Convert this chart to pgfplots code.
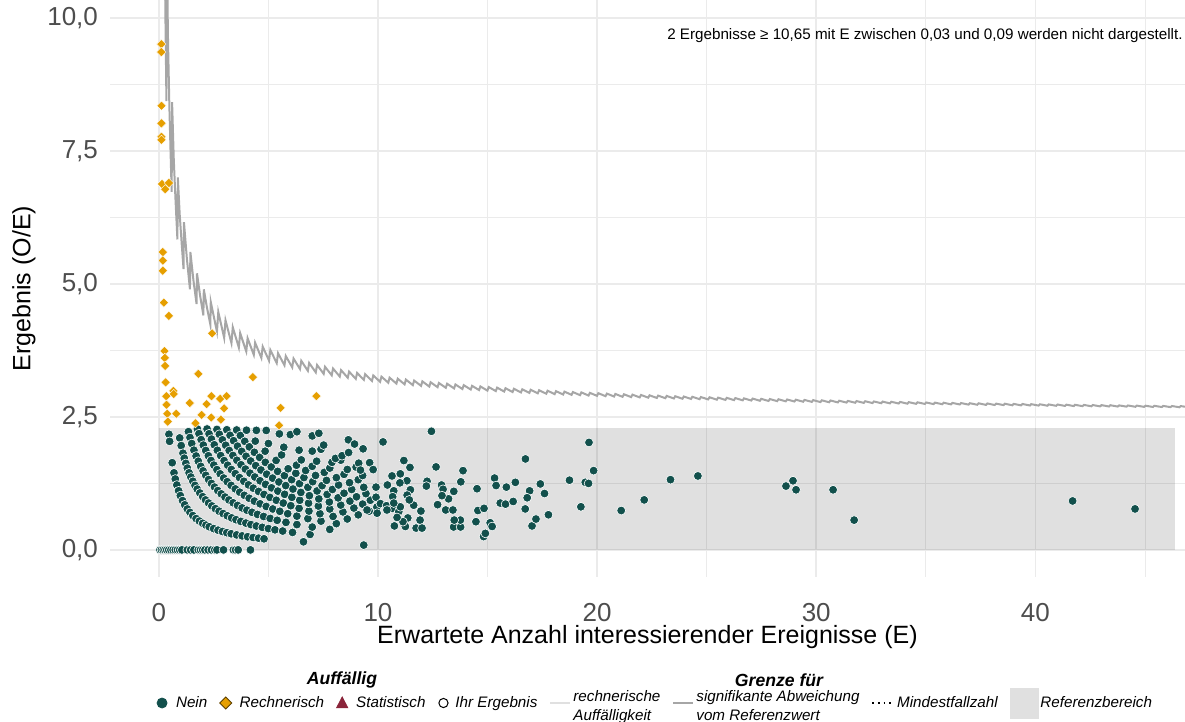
\documentclass[border=0pt]{standalone}
\usepackage{fontspec}
\setmainfont{Liberation Sans}
\usepackage{pgfplots}
\pgfplotsset{compat=1.18}
\definecolor{nein}{RGB}{18,80,76}
\definecolor{rechn}{RGB}{230,159,0}
\definecolor{stat}{RGB}{138,36,58}
\definecolor{sig}{RGB}{166,166,166}
\definecolor{rechline}{RGB}{224,224,224}
\definecolor{gridc}{RGB}{235,235,235}
\definecolor{tickc}{RGB}{77,77,77}
\definecolor{refc}{RGB}{224,224,224}

\begin{document}
\begin{tikzpicture}
\useasboundingbox (-55pt,-72.5pt) rectangle (537.5pt,288.5pt);
\begin{axis}[
  scale only axis, width=537.5pt, height=288.5pt,
  xmin=-2.23, xmax=46.83, ymin=-0.51, ymax=10.34,
  axis line style={draw=none}, tick style={draw=none},
  major tick length=0pt, minor tick length=0pt,
  xtick={0,10,20,30,40}, xticklabels={0,10,20,30,40},
  minor xtick={5,15,25,35,45},
  ytick={0,2.5,5,7.5,10}, yticklabels={{0,0},{2,5},{5,0},{7,5},{10,0}},
  minor ytick={1.25,3.75,6.25,8.75},
  grid=both,
  major grid style={draw=gridc, line width=0.75pt},
  minor grid style={draw=gridc, line width=0.4pt},
  tick label style={font=\fontsize{13}{15}\selectfont, text=tickc},
  yticklabel style={xshift=-2.5pt},
  xticklabel style={inner sep=0pt, yshift=-12.8pt},
  xlabel={Erwartete Anzahl interessierender Ereignisse (E)},
  ylabel={Ergebnis (O/E)},
  label style={font=\fontsize{12.5}{15}\selectfont},
  xlabel style={at={(axis description cs:0.5,-0.104)}, anchor=center, inner sep=0pt},
  ylabel style={at={(axis description cs:-0.08,0.5)}, anchor=center},
  legend columns=8,
  legend style={at={(0.507,-0.2184)}, anchor=center, draw=none, fill=none,
    font=\fontsize{7.6}{9.2}\selectfont\itshape,
    nodes={inner sep=1pt},
    /tikz/every even column/.append style={column sep=5pt}},
]
% Referenzbereich
\addplot[draw=none, fill=black, fill opacity=0.12, forget plot]
  coordinates {(0,0) (0,2.29) (46.37,2.29) (46.37,0) (0,0)};

% Grenze: signifikante Abweichung vom Referenzwert
\addplot[sig, line width=1pt, forget plot] table {
x y
0.25 12.0
0.30 10.0
0.3455 8.439
0.3655 11.252
0.42 9.524
0.48 8.333
0.53 7.547
0.584 6.734
0.604 8.418
0.68 7.353
0.76 6.579
0.8466 5.837
0.8666 7.004
0.95 6.316
1.04 5.769
1.1261 5.281
1.1461 6.161
1.28 5.469
1.4184 4.901
1.4384 5.601
1.58 5.063
1.7208 4.622
1.7408 5.200
1.88 4.787
2.0314 4.409
2.0514 4.899
2.20 4.545
2.3489 4.239
2.3689 4.663
2.652 4.101
2.712 4.474
2.981 3.986
3.041 4.318
3.313 3.888
3.373 4.187
3.650 3.804
3.710 4.076
3.990 3.731
4.050 3.980
4.333 3.667
4.393 3.896
4.679 3.610
4.739 3.822
5.028 3.559
5.088 3.757
5.379 3.513
5.439 3.698
5.732 3.471
5.792 3.645
6.087 3.433
6.147 3.597
6.440 3.401
6.500 3.555
6.800 3.367
6.860 3.514
7.161 3.337
7.221 3.477
7.522 3.310
7.582 3.443
7.889 3.283
7.949 3.410
8.255 3.259
8.315 3.380
8.621 3.237
8.681 3.352
8.987 3.216
9.047 3.327
9.354 3.197
9.414 3.304
9.726 3.178
9.786 3.280
10.098 3.160
10.158 3.258
10.470 3.143
10.530 3.238
10.842 3.127
10.902 3.219
11.214 3.113
11.274 3.202
11.590 3.098
11.650 3.184
11.966 3.084
12.026 3.168
12.342 3.071
12.402 3.152
12.719 3.059
12.779 3.138
13.095 3.048
13.155 3.124
13.475 3.036
13.535 3.110
13.854 3.025
13.914 3.097
14.234 3.015
14.294 3.085
14.614 3.005
14.674 3.073
14.994 2.995
15.054 3.062
15.377 2.986
15.437 3.051
15.760 2.977
15.820 3.040
16.143 2.968
16.203 3.030
16.525 2.960
16.585 3.020
16.908 2.952
16.968 3.011
17.294 2.944
17.354 3.002
17.679 2.936
17.739 2.993
18.064 2.929
18.124 2.984
18.450 2.922
18.510 2.976
18.835 2.915
18.895 2.968
19.223 2.909
19.283 2.961
19.610 2.902
19.670 2.953
19.998 2.896
20.058 2.946
20.385 2.890
20.445 2.939
20.773 2.884
20.833 2.932
21.163 2.878
21.223 2.926
21.554 2.873
21.614 2.919
21.944 2.867
22.004 2.913
22.334 2.862
22.394 2.906
22.725 2.857
22.785 2.901
23.115 2.852
23.175 2.895
23.505 2.847
23.565 2.889
23.896 2.842
23.956 2.884
24.286 2.838
24.346 2.879
24.677 2.833
24.737 2.874
25.070 2.829
25.130 2.869
25.464 2.824
25.524 2.863
25.857 2.820
25.917 2.859
26.250 2.816
26.310 2.854
26.644 2.812
26.704 2.849
27.037 2.808
27.097 2.845
27.430 2.804
27.490 2.840
27.824 2.800
27.884 2.836
28.217 2.797
28.277 2.832
28.611 2.793
28.671 2.828
29.007 2.790
29.067 2.824
29.403 2.786
29.463 2.820
29.799 2.783
29.859 2.816
30.195 2.779
30.255 2.812
30.591 2.776
30.651 2.809
30.987 2.773
31.047 2.805
31.383 2.770
31.443 2.801
31.779 2.767
31.839 2.798
32.174 2.764
32.234 2.795
32.570 2.761
32.630 2.791
32.969 2.758
33.029 2.788
33.367 2.755
33.427 2.785
33.765 2.752
33.825 2.782
34.163 2.749
34.223 2.778
34.561 2.746
34.621 2.775
34.959 2.744
35.019 2.772
35.357 2.741
35.417 2.769
35.755 2.739
35.815 2.767
36.153 2.736
36.213 2.764
36.551 2.734
36.611 2.761
36.951 2.731
37.011 2.758
37.350 2.729
37.410 2.756
37.750 2.726
37.810 2.753
38.150 2.724
38.210 2.750
38.550 2.722
38.610 2.748
38.950 2.719
39.010 2.745
39.350 2.717
39.410 2.743
39.750 2.715
39.810 2.740
40.150 2.713
40.210 2.738
40.550 2.711
40.610 2.735
40.951 2.709
41.011 2.733
41.353 2.707
41.413 2.731
41.754 2.704
41.814 2.728
42.156 2.702
42.216 2.726
42.557 2.700
42.617 2.724
42.959 2.698
43.019 2.722
43.360 2.696
43.420 2.720
43.762 2.695
43.822 2.717
44.164 2.693
44.224 2.715
44.565 2.691
44.625 2.713
44.967 2.689
45.027 2.711
45.370 2.687
45.430 2.709
45.772 2.686
45.832 2.707
46.174 2.684
46.234 2.705
46.577 2.682
46.637 2.704
47.000 2.681
};

% Auffaellig: Nein
\addplot[only marks, mark=*, mark size=2.2pt,
  mark options={fill=nein, draw=white, line width=0.3pt}, forget plot] table {
x y
0.05 0
0.12 0
0.20 0
0.28 0
0.36 0
0.45 0
0.55 0
0.65 0
0.75 0
0.85 0
0.95 0
1.05 0
1.30 0
1.45 0
1.60 0
1.80 0
1.90 0
2.00 0
2.10 0
2.25 0
2.40 0
2.55 0
2.65 0
2.95 0
3.40 0
3.50 0
3.62 0
4.18 0
0.46 2.174
0.49 2.041
0.61 1.639
0.69 1.449
0.75 1.333
0.82 1.220
0.90 1.111
0.98 1.020
1.08 0.926
1.18 0.847
1.30 0.769
1.42 0.704
1.55 0.645
1.70 0.588
1.85 0.541
2.00 0.500
2.15 0.465
2.30 0.435
2.50 0.400
2.70 0.370
2.90 0.345
3.10 0.323
3.30 0.303
3.55 0.282
3.80 0.263
4.05 0.247
4.30 0.233
4.55 0.220
4.80 0.208
6.60 0.152
0.95 2.105
1.02 1.961
1.10 1.818
1.16 1.724
1.23 1.626
1.30 1.538
1.38 1.449
1.46 1.370
1.55 1.290
1.65 1.212
1.75 1.143
1.87 1.070
2.00 1.000
2.13 0.939
2.27 0.881
2.42 0.826
2.58 0.775
2.75 0.727
2.93 0.683
3.12 0.641
3.32 0.602
3.52 0.568
3.74 0.535
3.97 0.504
4.20 0.476
4.45 0.449
4.72 0.424
5.00 0.400
5.30 0.377
5.65 0.354
6.10 0.328
6.90 0.290
1.35 2.222
1.42 2.113
1.50 2.000
1.60 1.875
1.70 1.765
1.80 1.667
1.91 1.571
2.02 1.485
2.14 1.402
2.27 1.322
2.40 1.250
2.54 1.181
2.69 1.115
2.85 1.053
3.02 0.993
3.20 0.938
3.39 0.885
3.59 0.836
3.80 0.789
4.02 0.746
4.25 0.706
4.50 0.667
4.78 0.628
5.08 0.591
5.40 0.556
5.80 0.517
6.30 0.476
7.00 0.429
7.80 0.385
1.76 2.273
1.83 2.186
1.93 2.073
2.03 1.970
2.14 1.869
2.26 1.770
2.38 1.681
2.51 1.594
2.65 1.509
2.80 1.429
2.96 1.351
3.12 1.282
3.30 1.212
3.49 1.146
3.69 1.084
3.90 1.026
4.12 0.971
4.36 0.917
4.62 0.866
4.90 0.816
5.20 0.769
5.52 0.725
5.88 0.680
6.30 0.635
6.80 0.588
7.40 0.541
8.10 0.494
2.20 2.273
2.29 2.183
2.40 2.083
2.53 1.976
2.67 1.873
2.82 1.773
2.98 1.678
3.14 1.592
3.31 1.511
3.49 1.433
3.68 1.359
3.88 1.289
4.09 1.222
4.31 1.160
4.55 1.099
4.80 1.042
5.07 0.986
5.36 0.933
5.68 0.880
6.02 0.831
6.40 0.781
6.85 0.730
7.35 0.680
7.95 0.629
8.60 0.581
2.65 2.264
2.76 2.174
2.90 2.069
3.05 1.967
3.21 1.869
3.38 1.775
3.56 1.685
3.75 1.600
3.95 1.519
4.16 1.442
4.38 1.370
4.62 1.299
4.87 1.232
5.14 1.167
5.43 1.105
5.74 1.045
6.07 0.988
6.43 0.933
6.83 0.878
7.28 0.824
7.80 0.769
8.40 0.714
9.10 0.659
3.10 2.258
3.25 2.154
3.41 2.053
3.59 1.950
3.78 1.852
3.98 1.759
4.19 1.671
4.42 1.584
4.66 1.502
4.92 1.423
5.19 1.349
5.48 1.277
5.79 1.209
6.12 1.144
6.48 1.080
6.87 1.019
7.30 0.959
7.78 0.900
8.30 0.843
8.90 0.787
9.60 0.729
3.55 2.254
3.72 2.151
3.92 2.041
4.13 1.937
4.36 1.835
4.60 1.739
4.86 1.646
5.13 1.559
5.42 1.476
5.73 1.396
6.06 1.320
6.42 1.246
6.80 1.176
7.22 1.108
7.68 1.042
8.18 0.978
8.72 0.917
9.30 0.860
9.95 0.804
4.00 2.250
4.40 2.045
4.85 1.856
5.35 1.682
5.90 1.525
6.25 1.440
6.62 1.360
7.02 1.282
7.45 1.208
7.92 1.136
8.45 1.065
9.02 0.998
9.65 0.933
4.45 2.247
5.00 2.000
5.60 1.786
6.28 1.592
6.70 1.493
7.15 1.399
7.65 1.307
8.20 1.220
8.80 1.136
9.45 1.058
4.90 2.245
5.70 1.930
6.50 1.692
7.00 1.571
7.55 1.457
8.10 1.358
8.70 1.264
9.35 1.176
5.50 2.182
6.40 1.875
7.20 1.667
7.80 1.538
8.45 1.420
9.10 1.319
6.00 2.167
7.00 1.857
7.90 1.646
8.60 1.512
9.30 1.398
6.30 2.222
7.40 1.892
8.30 1.687
9.00 1.556
7.00 2.143
7.30 2.192
7.52 1.970
8.65 2.070
8.93 1.990
9.32 1.900
8.06 1.720
8.36 1.770
8.66 1.830
9.12 1.630
9.20 1.500
9.62 1.640
9.78 1.510
10.23 2.030
12.44 2.230
11.18 1.680
11.46 1.550
12.65 1.560
13.88 1.490
16.73 1.710
19.63 2.020
19.84 1.490
10.64 1.390
11.02 1.430
11.32 1.300
10.43 1.220
11.00 1.260
12.24 1.290
12.21 1.200
12.90 1.220
12.97 1.140
13.46 1.100
13.78 1.280
14.52 1.150
15.32 1.350
15.39 1.210
15.86 1.180
16.27 1.270
17.41 1.240
17.60 1.060
16.92 1.110
16.81 0.980
18.74 1.310
19.46 1.270
19.61 1.250
9.91 1.180
9.91 0.990
10.11 0.870
10.39 0.830
10.65 0.780
10.95 0.720
11.02 0.810
11.63 0.840
11.96 0.730
11.92 0.560
11.36 0.600
11.25 0.440
10.75 0.450
11.74 0.410
12.01 0.410
12.72 0.850
13.09 0.750
13.45 0.430
13.77 0.430
13.76 0.560
14.47 0.530
14.56 0.740
14.84 0.780
15.12 0.510
15.21 0.440
14.82 0.250
14.90 0.310
15.58 0.880
15.82 0.860
16.17 0.910
16.72 0.770
17.03 0.450
17.21 0.580
17.78 0.660
19.26 0.810
21.10 0.740
9.35 0.090
10.72 1.110
10.67 1.000
11.48 1.130
11.33 1.030
11.43 0.940
11.14 0.530
10.87 0.610
10.72 0.880
10.41 0.750
9.96 0.690
9.50 0.750
13.22 0.960
13.42 0.750
13.48 0.560
12.92 1.020
22.15 0.940
23.35 1.320
24.60 1.390
28.62 1.200
28.94 1.300
29.08 1.130
30.77 1.130
31.73 0.560
41.70 0.920
44.55 0.770
};

% Auffaellig: Rechnerisch
\addplot[only marks, mark=square*, mark size=1.65pt,
  mark options={rotate=45, fill=rechn, draw=white, line width=0.2pt}, forget plot] table {
x y
0.11 9.51
0.11 9.36
0.12 8.35
0.12 8.02
0.12 7.77
0.12 7.71
0.14 6.88
0.46 6.90
0.29 6.78
0.18 5.60
0.18 5.44
0.18 5.25
0.23 4.65
0.46 4.40
2.43 4.07
0.26 3.74
0.27 3.61
0.29 3.46
0.31 3.15
1.80 3.31
4.29 3.25
0.66 2.99
0.68 2.93
0.34 2.89
0.35 2.73
0.38 2.56
0.41 2.41
0.79 2.56
1.41 2.76
2.18 2.74
2.40 2.89
2.80 2.84
3.09 2.89
2.98 2.66
1.95 2.54
2.39 2.49
2.83 2.45
1.67 2.38
5.56 2.67
5.49 2.34
7.19 2.89
};

% legend
\addlegendimage{legend image code/.code={\fill[nein] (3pt,0pt) circle (2.5pt); \path[draw=none] (0pt,0pt) -- (9pt,0pt);}}
\addlegendentry{Nein}
\addlegendimage{legend image code/.code={\filldraw[fill=rechn, draw=black!60!rechn, line width=0.4pt] (3pt,-3pt) -- (6pt,0pt) -- (3pt,3pt) -- (0pt,0pt) -- cycle; \path[draw=none] (0pt,0pt) -- (9pt,0pt);}}
\addlegendentry{Rechnerisch}
\addlegendimage{legend image code/.code={\fill[stat] (0.2pt,-2.4pt) -- (5.8pt,-2.4pt) -- (3pt,3pt) -- cycle; \path[draw=none] (0pt,0pt) -- (9pt,0pt);}}
\addlegendentry{Statistisch}
\addlegendimage{legend image code/.code={\draw[black, line width=0.5pt] (3pt,0pt) circle (2.3pt); \path[draw=none] (0pt,0pt) -- (8pt,0pt);}}
\addlegendentry{Ihr Ergebnis}
\addlegendimage{legend image code/.code={\draw[rechline, line width=1pt] (0pt,0pt) -- (10pt,0pt);}}
\addlegendentry{\raisebox{1.5pt}{\begin{tabular}{@{}l@{}}rechnerische\\Auffälligkeit\end{tabular}}}
\addlegendimage{legend image code/.code={\draw[sig, line width=1pt] (0pt,0pt) -- (10pt,0pt);}}
\addlegendentry{\raisebox{1.5pt}{\begin{tabular}{@{}l@{}}signifikante Abweichung\\vom Referenzwert\end{tabular}}}
\addlegendimage{legend image code/.code={\draw[black, line width=0.8pt, dotted] (0pt,0pt) -- (11pt,0pt);}}
\addlegendentry{Mindestfallzahl}
\addlegendimage{legend image code/.code={\fill[refc] (0pt,-7.5pt) rectangle (14pt,7.5pt);}}
\addlegendentry{Referenzbereich}
\end{axis}

\node[font=\fontsize{8.8}{10}\selectfont\bfseries\itshape] at (116pt,-51.5pt) {Auffällig};
\node[font=\fontsize{8.8}{10}\selectfont\bfseries\itshape] at (334.5pt,-51.5pt) {Grenze für};
\node[font=\fontsize{7.6}{9}\selectfont, anchor=east, inner sep=0pt] at (536.5pt,270.5pt)
  {2 Ergebnisse ≥ 10,65 mit E zwischen 0,03 und 0,09 werden nicht dargestellt.};
\end{tikzpicture}
\end{document}
